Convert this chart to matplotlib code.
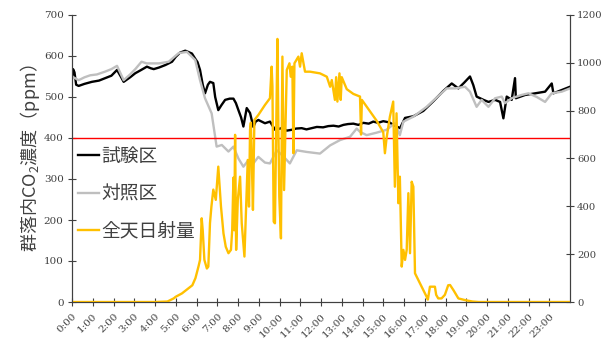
import matplotlib
matplotlib.use("Agg")
import matplotlib.pyplot as plt

# time of day in hours
test_t = [0.0, 0.05, 0.12, 0.2, 0.32, 0.6, 0.96, 1.3, 1.6, 1.9, 2.17, 2.35, 2.49, 2.8,
          3.05, 3.3, 3.61, 3.8, 3.94, 4.2, 4.5, 4.82, 5.0, 5.2, 5.46, 5.78, 5.93, 6.05,
          6.17, 6.3, 6.41, 6.55, 6.65, 6.81, 6.9, 7.05, 7.2, 7.38, 7.6, 7.78, 7.9, 8.02,
          8.15, 8.26, 8.42, 8.58, 8.74, 8.85, 8.98, 9.3, 9.54, 9.79, 10.1, 10.35, 10.59,
          10.8, 11.07, 11.3, 11.55, 11.8, 12.1, 12.35, 12.6, 12.85, 13.08, 13.3, 13.56,
          13.8, 14.04, 14.3, 14.52, 14.75, 15.0, 15.3, 15.49, 15.81, 16.05, 16.45, 16.93,
          17.42, 17.9, 18.3, 18.62, 18.9, 19.18, 19.34, 19.5, 19.83, 20.07, 20.39, 20.63,
          20.79, 20.95, 21.19, 21.35, 21.39, 21.84, 22.32, 22.8, 23.12, 23.2, 23.6, 24.0]
test_co2 = [545, 568, 560, 530, 527, 532, 537, 540, 546, 552, 566, 550, 537, 548,
            558, 565, 574, 570, 568, 572, 578, 586, 598, 608, 613, 606, 594, 585,
            566, 530, 509, 530, 537, 534, 500, 468, 480, 493, 496, 496, 485, 468,
            450, 428, 473, 461, 427, 440, 444, 436, 440, 420, 424, 418, 420,
            423, 424, 421, 424, 427, 426, 429, 430, 428, 432, 434, 435,
            432, 437, 435, 440, 437, 441, 438, 432, 424, 449, 453, 466,
            490, 515, 533, 521, 535, 550, 529, 501, 493, 488, 493, 488,
            448, 501, 493, 546, 497, 505, 509, 513, 533, 509, 517, 525]

ctrl_t = [0.0, 0.32, 0.6, 0.88, 1.2, 1.6, 1.9, 2.17, 2.49, 2.8, 3.05, 3.35, 3.6, 4.2,
          4.66, 5.14, 5.54, 5.94, 6.17, 6.41, 6.73, 6.97, 7.22, 7.54, 7.78, 8.02, 8.26,
          8.5, 8.74, 8.98, 9.3, 9.54, 9.87, 10.19, 10.5, 10.83, 11.31, 11.95, 12.44,
          12.92, 13.4, 13.72, 13.88, 14.2, 14.68, 15.16, 15.56, 15.8, 15.97, 16.45,
          17.09, 17.58, 18.06, 18.46, 18.94, 19.18, 19.5, 19.74, 20.07, 20.39, 20.71,
          20.87, 21.19, 21.67, 22.0, 22.4, 22.8, 23.12, 23.6, 24.0]
ctrl_co2 = [550, 541, 548, 553, 555, 562, 568, 576, 541, 555, 568, 586, 582, 582,
            586, 607, 610, 590, 541, 497, 460, 379, 383, 367, 379, 350, 330,
            346, 338, 354, 340, 338, 370, 355, 338, 370, 366, 362, 382,
            395, 403, 423, 415, 407, 413, 420, 436, 407, 440, 452,
            476, 499, 521, 521, 525, 513, 476, 493, 476, 497, 501,
            485, 497, 505, 509, 500, 488, 509, 513, 521]

sun_t = [0.0, 4.0, 4.6, 4.9, 5.0, 5.3, 5.55, 5.8, 5.95, 6.1, 6.17, 6.25, 6.3, 6.38,
         6.5, 6.57, 6.65, 6.72, 6.81, 6.93, 7.05, 7.18, 7.3, 7.41, 7.54, 7.66, 7.72,
         7.78, 7.82, 7.86, 7.91, 7.99, 8.1, 8.18, 8.31, 8.37, 8.47, 8.53, 8.58, 8.62,
         8.66, 8.72, 8.79, 8.98, 9.3, 9.54, 9.62, 9.66, 9.72, 9.78, 9.9, 9.95, 9.99,
         10.07, 10.14, 10.22, 10.35, 10.48, 10.54, 10.62, 10.67, 10.72, 10.91, 10.99,
         11.07, 11.23, 11.47, 11.95, 12.28, 12.44, 12.52, 12.67, 12.73, 12.79, 12.89,
         12.95, 13.0, 13.24, 13.56, 13.88, 13.93, 13.97, 14.2, 14.68, 15.0, 15.08,
         15.16, 15.32, 15.48, 15.56, 15.64, 15.73, 15.8, 15.89, 15.97, 16.05, 16.13,
         16.21, 16.29, 16.37, 16.45, 16.53, 16.77, 17.09, 17.15, 17.25, 17.49, 17.55,
         17.65, 17.81, 17.97, 18.13, 18.22, 18.38, 18.62, 18.94, 19.3, 19.6, 24.0]
sun_w = [0, 0, 2, 15, 22, 36, 53, 70, 100, 150, 176, 350, 300, 176,
         140, 148, 330, 400, 470, 427, 566, 399, 287, 231, 204, 218, 300,
         520, 300, 699, 218, 427, 524, 329, 190, 343, 594, 399, 720, 750,
         608, 385, 761, 782, 824, 852, 984, 900, 336, 329, 1100, 700, 440,
         266, 1026, 468, 970, 998, 942, 984, 622, 998, 1026, 984,
         1040, 963, 963, 956, 942, 900, 928, 845, 940, 838, 956,
         845, 940, 890, 870, 859, 700, 845, 817, 758, 710, 622,
         685, 775, 838, 482, 789, 413, 524, 148, 218, 176, 218,
         455, 204, 503, 482, 120, 78, 22, 10, 64, 64, 30,
         15, 15, 30, 70, 71, 50, 15, 8, 2, 0, 0]

threshold = 400
hours = list(range(24))
hour_labels = [f"{h}:00" for h in hours]

serif = "DejaVu Serif"
jp = ["Noto Sans CJK JP", "DejaVu Sans"]

fig = plt.figure(figsize=(6.04, 3.49), dpi=100)
ax = fig.add_axes([72 / 604, 47 / 349, 498 / 604, 287 / 349])
ax2 = ax.twinx()

l1, = ax.plot(test_t, test_co2, color="black", lw=1.7, label="試験区")
l2, = ax.plot(ctrl_t, ctrl_co2, color="#BFBFBF", lw=1.7, label="対照区")
ax.axhline(threshold, color="#FF0000", lw=1.0)
l3, = ax2.plot(sun_t, sun_w, color="#FFC000", lw=1.7, label="全天日射量")

ax.set_xlim(0, 24)
ax.set_ylim(0, 700)
ax.set_yticks(range(0, 701, 100))
ax2.set_ylim(0, 1200)
ax2.set_yticks(range(0, 1201, 200))
ax.set_xticks(hours)
ax.set_xticklabels(hour_labels, rotation=45, ha="right", va="top",
                   rotation_mode="anchor", family=serif, fontsize=7.5)
for lab in ax.get_yticklabels():
    lab.set_family(serif)
    lab.set_fontsize(7.5)
for lab in ax2.get_yticklabels():
    lab.set_family(serif)
    lab.set_fontsize(7.2)

for a in (ax, ax2):
    a.spines["top"].set_visible(False)
    for s in a.spines.values():
        s.set_color("#404040")
    a.tick_params(direction="inout", length=6, width=0.8, color="#404040",
                  labelcolor="#404040")
ax.tick_params(axis="y", pad=3)
ax.tick_params(axis="x", pad=4)
ax2.tick_params(axis="y", pad=2)

ax.set_ylabel("群落内CO$_\\mathregular{2}$濃度（ppm）", family="Noto Sans CJK JP",
              fontsize=13, color="#404040", labelpad=1)

leg = ax2.legend(handles=[l1, l2, l3], loc="upper left",
                 bbox_to_anchor=(78 / 604, (349 - 146) / 349),
                 bbox_transform=fig.transFigure, frameon=False,
                 prop={"family": jp, "size": 13.5}, handlelength=1.1,
                 handletextpad=0.15, labelspacing=0.87, borderpad=0,
                 borderaxespad=0)
for t in leg.get_texts():
    t.set_color("#404040")

fig.savefig("out.png", dpi=100)
